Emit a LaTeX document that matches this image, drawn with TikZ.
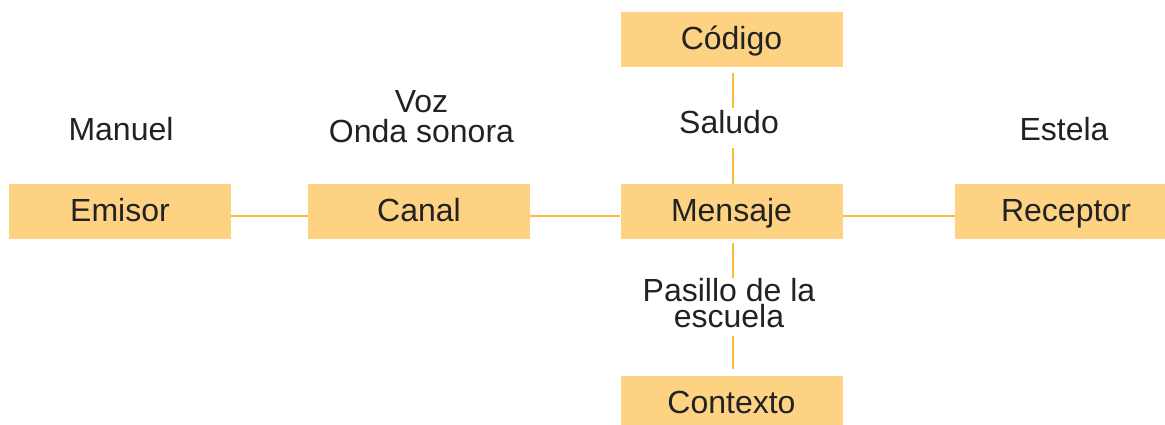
\documentclass[tikz,border=0pt]{standalone}
\usepackage{fontspec}
\setmainfont{Liberation Sans}
\definecolor{boxfill}{HTML}{FDD383}
\definecolor{linec}{HTML}{FBBC3A}
\definecolor{txt}{HTML}{222222}
\begin{document}
\begin{tikzpicture}[x=1pt,y=-1pt,
  box/.style={fill=boxfill, minimum width=222pt, minimum height=55pt, inner sep=0pt,
    text height=22pt, text depth=3pt, font=\fontsize{32}{32}\selectfont, text=txt},
  lbl/.style={inner sep=0pt, font=\fontsize{32}{30}\selectfont, text=txt, align=center},
  conn/.style={draw=linec, line width=2.5pt}]
\useasboundingbox (0,0) rectangle (1165,424);

\node[box] (emisor) at (120,211.5) {Emisor};
\node[box] (canal) at (419,211.5) {Canal};
\node[box] (mensaje) at (731.5,211.5) {Mensaje};
\node[box] (receptor) at (1066,211.5) {Receptor};
\node[box] (codigo) at (731.5,39.5) {Código};
\node[box] (contexto) at (731.5,403.5) {Contexto};

\node[lbl, anchor=base] (manuel) at (121,140) {Manuel};
\node[lbl, anchor=base] (estela) at (1064,140) {Estela};
\node[lbl, anchor=north] (voz) at (421.5,90.5) {Voz\\Onda sonora};
\node[lbl, anchor=base] (saludo) at (729,133) {Saludo};
\node[lbl, anchor=north, font=\fontsize{32}{26}\selectfont] (pasillo) at (729,278) {Pasillo de la\\escuela};

\draw[conn] ([yshift=-4.5pt]emisor.east) -- ([yshift=-4.5pt]canal.west);
\draw[conn] ([yshift=-4.5pt]canal.east) -- ([yshift=-4.5pt]mensaje.west);
\draw[conn] ([yshift=-4.5pt]mensaje.east) -- ([yshift=-4.5pt]receptor.west);

\draw[conn, shorten <=6pt, shorten >=2pt] ([xshift=1.5pt]codigo.south) -- ([xshift=1.5pt]codigo.south |- saludo.north);
\draw[conn, shorten <=14pt] ([xshift=1.5pt]codigo.south |- saludo.south) -- ([xshift=1.5pt]mensaje.north);
\draw[conn, shorten <=4pt] ([xshift=1.5pt]mensaje.south) -- ([xshift=1.5pt]mensaje.south |- pasillo.north);
\draw[conn, shorten <=8pt, shorten >=7pt] ([xshift=1.5pt]mensaje.south |- pasillo.south) -- ([xshift=1.5pt]contexto.north);
\end{tikzpicture}
\end{document}
